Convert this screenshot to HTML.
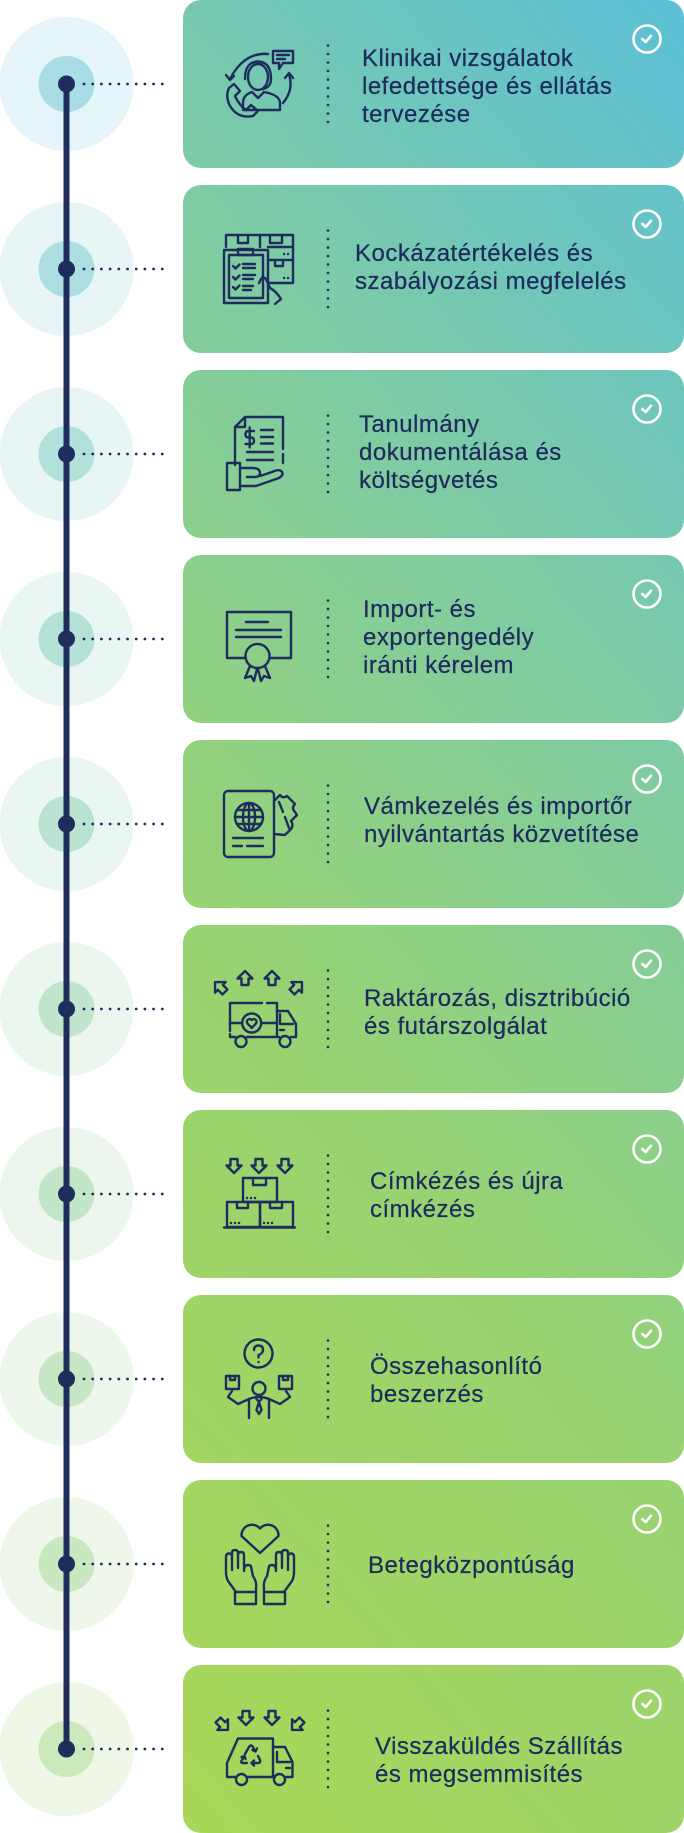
<!DOCTYPE html>
<html>
<head>
<meta charset="utf-8">
<style>
  html,body{margin:0;padding:0;background:#ffffff;}
  body{width:684px;height:1833px;position:relative;overflow:hidden;}
  .card{position:absolute;left:183px;width:501px;height:168px;border-radius:18px;
    background:linear-gradient(229deg,#5bc0d7 0%,#7ecba5 31%,#98d371 62%,#a9d757 100%);
    background-size:501px 1833px;background-repeat:no-repeat;}
  .t{position:absolute;font-family:"Liberation Sans",Arial,sans-serif;font-size:24px;line-height:28px;
    letter-spacing:0.5px;color:#1e2c5c;white-space:nowrap;-webkit-text-stroke:0.25px #1e2c5c;}
  svg{position:absolute;left:0;top:0;}
</style>
</head>
<body>
<div class="card" style="top:0px;background-position:0 0px"></div>
<div class="card" style="top:185px;background-position:0 -185px"></div>
<div class="card" style="top:370px;background-position:0 -370px"></div>
<div class="card" style="top:555px;background-position:0 -555px"></div>
<div class="card" style="top:740px;background-position:0 -740px"></div>
<div class="card" style="top:925px;background-position:0 -925px"></div>
<div class="card" style="top:1110px;background-position:0 -1110px"></div>
<div class="card" style="top:1295px;background-position:0 -1295px"></div>
<div class="card" style="top:1480px;background-position:0 -1480px"></div>
<div class="card" style="top:1665px;background-position:0 -1665px"></div>

<svg width="684" height="1833" viewBox="0 0 684 1833" xmlns="http://www.w3.org/2000/svg">
  <!-- timeline circles -->
  <circle cx="66.5" cy="84" r="67" fill="#e6f5f9"/><circle cx="66.5" cy="84" r="28" fill="#a8dde6"/>
  <circle cx="66.5" cy="269" r="67" fill="#e7f5f7"/><circle cx="66.5" cy="269" r="28" fill="#addee1"/>
  <circle cx="66.5" cy="454" r="67" fill="#e8f5f5"/><circle cx="66.5" cy="454" r="28" fill="#b2e0db"/>
  <circle cx="66.5" cy="639" r="67" fill="#e9f6f3"/><circle cx="66.5" cy="639" r="28" fill="#b6e1d6"/>
  <circle cx="66.5" cy="824" r="67" fill="#eaf6f1"/><circle cx="66.5" cy="824" r="28" fill="#bbe3d1"/>
  <circle cx="66.5" cy="1009" r="67" fill="#ebf6ef"/><circle cx="66.5" cy="1009" r="28" fill="#c0e4cc"/>
  <circle cx="66.5" cy="1194" r="67" fill="#ecf6ed"/><circle cx="66.5" cy="1194" r="28" fill="#c3e5c8"/>
  <circle cx="66.5" cy="1379" r="67" fill="#edf7eb"/><circle cx="66.5" cy="1379" r="28" fill="#c6e6c4"/>
  <circle cx="66.5" cy="1564" r="67" fill="#eef7e9"/><circle cx="66.5" cy="1564" r="28" fill="#c9e8c0"/>
  <circle cx="66.5" cy="1749" r="67" fill="#eff7e7"/><circle cx="66.5" cy="1749" r="28" fill="#cce9bc"/>

  <!-- vertical line -->
  <rect x="63.5" y="84" width="6" height="1665" fill="#1f2d5c"/>

  <g fill="#1f2d5c">
    <circle cx="66.5" cy="84" r="8.5"/><circle cx="66.5" cy="269" r="8.5"/>
    <circle cx="66.5" cy="454" r="8.5"/><circle cx="66.5" cy="639" r="8.5"/>
    <circle cx="66.5" cy="824" r="8.5"/><circle cx="66.5" cy="1009" r="8.5"/>
    <circle cx="66.5" cy="1194" r="8.5"/><circle cx="66.5" cy="1379" r="8.5"/>
    <circle cx="66.5" cy="1564" r="8.5"/><circle cx="66.5" cy="1749" r="8.5"/>
  </g>

  <!-- horizontal dotted connectors -->
  <g stroke="#1f2d5c" stroke-width="2.8" stroke-linecap="round" stroke-dasharray="0 8.7" fill="none">
    <line x1="84" y1="84" x2="163" y2="84"/><line x1="84" y1="269" x2="163" y2="269"/>
    <line x1="84" y1="454" x2="163" y2="454"/><line x1="84" y1="639" x2="163" y2="639"/>
    <line x1="84" y1="824" x2="163" y2="824"/><line x1="84" y1="1009" x2="163" y2="1009"/>
    <line x1="84" y1="1194" x2="163" y2="1194"/><line x1="84" y1="1379" x2="163" y2="1379"/>
    <line x1="84" y1="1564" x2="163" y2="1564"/><line x1="84" y1="1749" x2="163" y2="1749"/>
  </g>

  <!-- vertical dotted dividers in cards -->
  <g stroke="#1f2d5c" stroke-width="2.6" stroke-linecap="round" stroke-dasharray="0 8.5" fill="none">
    <line x1="328" y1="45.5" x2="328" y2="122.5"/>
    <line x1="328" y1="230.5" x2="328" y2="307.5"/>
    <line x1="328" y1="415.5" x2="328" y2="492.5"/>
    <line x1="328" y1="600.5" x2="328" y2="677.5"/>
    <line x1="328" y1="785.5" x2="328" y2="862.5"/>
    <line x1="328" y1="970.5" x2="328" y2="1047.5"/>
    <line x1="328" y1="1155.5" x2="328" y2="1232.5"/>
    <line x1="328" y1="1340.5" x2="328" y2="1417.5"/>
    <line x1="328" y1="1525.5" x2="328" y2="1602.5"/>
    <line x1="328" y1="1710.5" x2="328" y2="1787.5"/>
  </g>

  <!-- check icons -->
  <g stroke="#ffffff" stroke-width="2.6" fill="none" stroke-linecap="round" stroke-linejoin="round">
    <circle cx="647" cy="39" r="13.5"/><path d="M642.3,39 L645.7,42 L651,35.7"/>
    <circle cx="647" cy="224" r="13.5"/><path d="M642.3,224 L645.7,227 L651,220.7"/>
    <circle cx="647" cy="409" r="13.5"/><path d="M642.3,409 L645.7,412 L651,405.7"/>
    <circle cx="647" cy="594" r="13.5"/><path d="M642.3,594 L645.7,597 L651,590.7"/>
    <circle cx="647" cy="779" r="13.5"/><path d="M642.3,779 L645.7,782 L651,775.7"/>
    <circle cx="647" cy="964" r="13.5"/><path d="M642.3,964 L645.7,967 L651,960.7"/>
    <circle cx="647" cy="1149" r="13.5"/><path d="M642.3,1149 L645.7,1152 L651,1145.7"/>
    <circle cx="647" cy="1334" r="13.5"/><path d="M642.3,1334 L645.7,1337 L651,1330.7"/>
    <circle cx="647" cy="1519" r="13.5"/><path d="M642.3,1519 L645.7,1522 L651,1515.7"/>
    <circle cx="647" cy="1704" r="13.5"/><path d="M642.3,1704 L645.7,1707 L651,1700.7"/>
  </g>

  <!-- icons -->
  <g fill="none" stroke="#1f2d5c" stroke-width="2.4" stroke-linecap="round" stroke-linejoin="round">
    <!-- 1: headset person -->
    <g transform="translate(224,50)">
      <ellipse cx="34" cy="27" rx="10" ry="13"/>
      <path d="M21,29 Q21,12 34,11.5 Q47,12 47,29"/>
      <path d="M47,29 Q47,37 39,39"/>
      <path d="M19,60 V53 Q19,45 28,42 L34,48 L40,42 Q56,45 56,53 V60 Z"/>
      <path d="M49,1 H69 V13 H59 L55,19 V13 H49 Z"/>
      <path d="M53,5 H65 M53,9 H61"/>
      <path d="M44,4 Q20,2 6,29"/><path d="M2,25 L6,30 L10,26"/>
      <path d="M59,53 Q70,40 65,24"/><path d="M61,28 L65,23 L69,28"/>
      <path d="M5,38 L10,34 L16,41 L11,46 Q15,55 22,60 L27,55 L34,61 L29,66 Q14,69 6,56 Q1,46 5,38 Z"/>
    </g>
    <!-- 2: clipboard and boxes -->
    <g transform="translate(223,233)">
      <path d="M3,14 V2 H70 V50 H46"/>
      <path d="M15,2 V10 H25 V2 M47,2 V10 H59 V2 M37,2 V14"/>
      <path d="M45,14 H70 M47,27 H70 M52,27 V33 H60 V27"/>
      <path d="M61,21 h0.1 M65,21 h0.1 M61,45 h0.1 M65,45 h0.1"/>
      <rect x="1" y="17" width="44" height="53"/>
      <rect x="6" y="22" width="34" height="43"/>
      <rect x="15" y="16" width="15" height="6"/>
      <path d="M10,33 l2.5,2.5 l4,-4 M10,44 l2.5,2.5 l4,-4 M10,54 l2.5,2.5 l4,-4"/>
      <path d="M20,31 H32 M20,35 H32 M20,42 H32 M20,46 H30 M20,53 H30 M20,57 H28"/>
      <path d="M36,50 L38,46 Q40,43 43,46 L47,55 Q53,58 58,66 L52,71"/>
    </g>
    <!-- 3: document and hand -->
    <g transform="translate(226,416)">
      <path d="M9,49 V11 L19,1 H57 V33 M57,38 V47 M9,11 H19 V1"/>
      <path d="M28,15 H22.5 Q19.5,15 19.5,18.5 Q19.5,21.5 22.5,21.5 H25 Q28,21.5 28,25 Q28,28 25,28 H19.5 M23.7,11.5 V31.5"/>
      <path d="M35,14 H47 M35,21 H47 M35,27.5 H47 M21,36 H47 M21,44 H47"/>
      <rect x="1" y="47" width="13" height="27"/>
      <path d="M14,52 H26 Q34,52 34,57 Q34,61 28,61 H21 M14,70 H30 L53,62 Q59,58 55,55 Q52,53 46,56 L34,60"/>
    </g>
    <!-- 4: certificate -->
    <g transform="translate(226,612)">
      <path d="M19,46 H1 V0 H65 V46 H44"/>
      <path d="M20,10 H42 M10,18 H55 M10,25 H55"/>
      <circle cx="31.5" cy="44" r="12"/>
      <path d="M24,54 L19,66 L25,64 L28,69 L31,57 M39,54 L44,66 L38,64 L35,69 L32,57"/>
    </g>
    <!-- 5: passport -->
    <g transform="translate(223,790)">
      <rect x="1" y="1" width="50" height="66" rx="4"/>
      <circle cx="26" cy="27" r="14"/>
      <ellipse cx="26" cy="27" rx="6" ry="14"/>
      <path d="M12,27 H40 M14,20 H38 M14,34 H38 M26,13 V41"/>
      <path d="M10,48 H40 M10,56 H19 M24,56 H40"/>
      <path d="M51,11 L57,5 Q60,9 64,6 L72,14 Q68,18 72,22 L74,25 L68,31 Q71,35 68,39 L62,45 L51,44"/>
      <path d="M56,12 L60,22 M62,27 L66,38"/>
    </g>
    <!-- 6: truck with heart and outward arrows -->
    <g transform="translate(212,971)">
      <path d="M33,0 L40.5,7.5 H36.5 V14 H29.5 V7.5 H25.5 Z"/>
      <path d="M60,0 L67.5,7.5 H63.5 V14 H56.5 V7.5 H52.5 Z"/>
      <g transform="translate(8,16) rotate(-45) translate(0,-7)"><path d="M0,0 L7.5,7.5 H3.5 V14 H-3.5 V7.5 H-7.5 Z"/></g>
      <g transform="translate(85,16) rotate(45) translate(0,-7)"><path d="M0,0 L7.5,7.5 H3.5 V14 H-3.5 V7.5 H-7.5 Z"/></g>
      <path d="M18,60 V32 H50 M55,32 H65 V66 M18,63 V66 H23 M35,66 H67"/>
      <path d="M65,40 H76 L84,53 V66 H79"/>
      <path d="M68,43 V53 H81 M68,59 H72"/>
      <circle cx="29" cy="70.5" r="5.5"/><circle cx="73" cy="70.5" r="5.5"/>
      <circle cx="39.7" cy="52" r="9.5"/>
      <path d="M18,52 H30 M49,52 H65"/>
      <path d="M39.7,57 L35.5,52.5 A2.4,2.4 0 0 1 39.7,49 A2.4,2.4 0 0 1 43.9,52.5 Z"/>
    </g>
    <!-- 7: boxes with down arrows -->
    <g transform="translate(224,1158)">
      <path d="M10,15 L17.5,7.5 H13.5 V1 H6.5 V7.5 H2.5 Z"/>
      <path d="M35,15 L42.5,7.5 H38.5 V1 H31.5 V7.5 H27.5 Z"/>
      <path d="M61,15 L68.5,7.5 H64.5 V1 H57.5 V7.5 H53.5 Z"/>
      <rect x="19" y="20" width="34" height="24"/>
      <path d="M29,20 V27 H42 V20"/>
      <path d="M23,40 h0.1 M27,40 h0.1 M31,40 h0.1"/>
      <rect x="3" y="44" width="33" height="25"/>
      <rect x="36" y="44" width="33" height="25"/>
      <path d="M13,44 V50 H24 V44 M46,44 V50 H58 V44"/>
      <path d="M7,65 h0.1 M11,65 h0.1 M15,65 h0.1 M40,65 h0.1 M44,65 h0.1 M48,65 h0.1"/>
      <path d="M0,69.5 H71"/>
    </g>
    <!-- 8: person comparing -->
    <g transform="translate(225,1339)">
      <circle cx="33.5" cy="14.5" r="14"/>
      <path d="M29,11 Q29,6.5 33.5,6.5 Q38,6.5 38,11 Q38,14.5 33.5,16 V18.5"/>
      <path d="M33.5,23 h0.1"/>
      <rect x="1" y="37" width="13" height="13"/><path d="M5,37 V41 H10 V37"/>
      <rect x="54" y="37" width="13" height="13"/><path d="M58,37 V41 H63 V37"/>
      <circle cx="34" cy="49.5" r="6.5"/>
      <path d="M7,52 L3,58 L13,65 L24,60 V79 M61,52 L65,58 L55,65 L44,60 V79"/>
      <path d="M24,60 Q34,56 44,60"/>
      <path d="M31.5,60 L34,63 L36.5,60 M34,63 L31.5,71 L34,75 L36.5,71 Z"/>
    </g>
    <!-- 9: hands with heart -->
    <g transform="translate(225,1523)">
      <path d="M35,30 L16.5,13 A10.5,10.5 0 0 1 35,5.5 A10.5,10.5 0 0 1 53.5,13 Z"/>
      <path d="M11,69 L3,58 Q1,54 1,49 V34 Q1,30.5 4,30.5 Q7,30.5 7,34 V47 M7,40 V30 Q7,27 10,27 Q13,27 13,30 V45 M13,37 V32 Q13,29 16,29 Q19,29 19,32 V48 Q19,42 23,42 Q26.5,42 26.5,46 L28,53 Q32,59 31,65 V69"/>
      <rect x="10" y="69" width="21" height="12"/>
      <g transform="translate(70,0) scale(-1,1)">
        <path d="M11,69 L3,58 Q1,54 1,49 V34 Q1,30.5 4,30.5 Q7,30.5 7,34 V47 M7,40 V30 Q7,27 10,27 Q13,27 13,30 V45 M13,37 V32 Q13,29 16,29 Q19,29 19,32 V48 Q19,42 23,42 Q26.5,42 26.5,46 L28,53 Q32,59 31,65 V69"/>
        <rect x="10" y="69" width="21" height="12"/>
      </g>
    </g>
    <!-- 10: recycle truck -->
    <g transform="translate(214,1710)">
      <path d="M32,15 L39.5,7.5 H35.5 V1 H28.5 V7.5 H24.5 Z"/>
      <path d="M58,15 L65.5,7.5 H61.5 V1 H54.5 V7.5 H50.5 Z"/>
      <g transform="translate(9,15) rotate(-45) translate(0,-7)"><path d="M0,14 L7.5,6.5 H3.5 V0 H-3.5 V6.5 H-7.5 Z"/></g>
      <g transform="translate(83,15) rotate(45) translate(0,-7)"><path d="M0,14 L7.5,6.5 H3.5 V0 H-3.5 V6.5 H-7.5 Z"/></g>
      <path d="M21,67 H13 V53 L24,28.5 H59 V67 H34"/>
      <path d="M59,37 H71 L78.5,52 V67 H72"/>
      <path d="M63,42 V52 H76 M72,58 H76"/>
      <circle cx="27.5" cy="69.5" r="5.5"/><circle cx="65.5" cy="69.5" r="5.5"/>
      <path d="M31,44 L35,37 Q37,34 39,37 L41,41 M38.5,40 L41.5,41.5 L43,38.5 M44,46 L46,50 Q47,53 44,53 H38 M40,50.5 L37.5,53 L40,55.5 M33,53 H29 Q26,53 28,50 L30,46.5 M27.5,47 L30.5,46 L31.5,49"/>
    </g>
  </g>
</svg>

<div class="t" style="left:362px;top:45px">Klinikai vizsgálatok<br>lefedettsége és ellátás<br>tervezése</div>
<div class="t" style="left:355px;top:240px">Kockázatértékelés és<br>szabályozási megfelelés</div>
<div class="t" style="left:359px;top:411px">Tanulmány<br>dokumentálása és<br>költségvetés</div>
<div class="t" style="left:363px;top:596px">Import- és<br>exportengedély<br>iránti kérelem</div>
<div class="t" style="left:364px;top:793px">Vámkezelés és importőr<br>nyilvántartás közvetítése</div>
<div class="t" style="left:364px;top:985px">Raktározás, disztribúció<br>és futárszolgálat</div>
<div class="t" style="left:370px;top:1168px">Címkézés és újra<br>címkézés</div>
<div class="t" style="left:370px;top:1353px">Összehasonlító<br>beszerzés</div>
<div class="t" style="left:368px;top:1552px">Betegközpontúság</div>
<div class="t" style="left:375px;top:1733px">Visszaküldés Szállítás<br>és megsemmisítés</div>
</body>
</html>
